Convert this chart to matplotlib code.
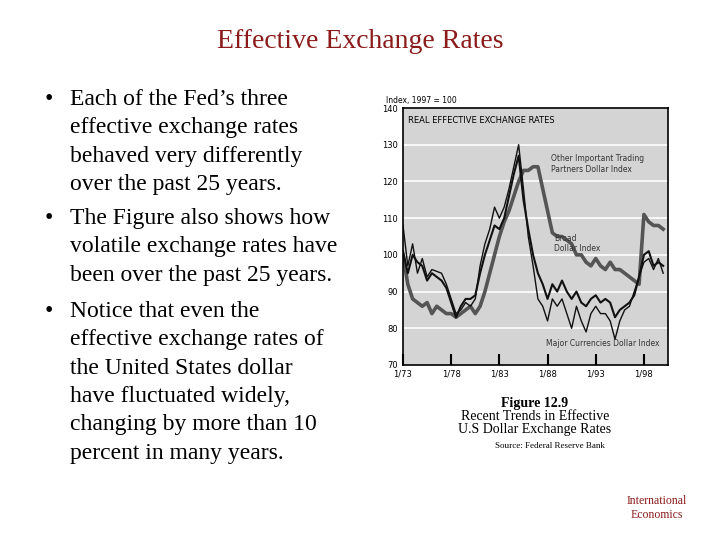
import matplotlib
matplotlib.use("Agg")
import matplotlib.pyplot as plt
import numpy as np

years = [1973+0.5*i for i in range(55)]
major = [108,97,103,95,99,94,96,95.5,95,92,88,84,85,87,86,88,97,103,107,113,110,113,118,124,130,118,105,97,88,86,82,88,86,88,84,80,86,82,79,84,86,84,84,82,77,82,85,86,90,94,98,99,96,99,95]
broad = [101,95,100,98,97,93,95,94,93,91,87,83,86,88,88,89,95,100,104,108,107,110,116,122,127,115,107,100,95,92,88,92,90,93,90,88,90,87,86,88,89,87,88,87,83,85,86,87,89,94,100,101,97,98,97]
other = [100,92,88,87,86,87,84,86,85,84,84,83,84,85,86,84,86,90,95,100,105,109,112,116,120,123,123,124,124,118,112,106,105,105,104,103,100,100,98,97,99,97,96,98,96,96,95,94,93,92,111,109,108,108,107]
yticks = [70,80,90,100,110,120,130,140]
xticks = [1973,1978,1983,1988,1993,1998]
xlabels = ["1/73","1/78","1/83","1/88","1/93","1/98"]
bullets = ["Each of the Fed\u2019s three\neffective exchange rates\nbehaved very differently\nover the past 25 years.",
           "The Figure also shows how\nvolatile exchange rates have\nbeen over the past 25 years.",
           "Notice that even the\neffective exchange rates of\nthe United States dollar\nhave fluctuated widely,\nchanging by more than 10\npercent in many years."]

W, H = 720, 540
fig = plt.figure(figsize=(7.2, 5.4), dpi=100)
serif = "Liberation Serif"
maroon = "#8b1a1a"
fig.text(0.5, 1-42/H, "Effective Exchange Rates", ha="center", va="center", fontsize=20, family=serif, color=maroon)
ys = [97, 216, 309]
for y, b in zip(ys, bullets):
    fig.text(45/W, 1-y/H, "\u2022", ha="left", va="center_baseline", fontsize=17, family=serif)
    fig.text(70/W, 1-(y-8)/H, b, ha="left", va="top", fontsize=17, family=serif, linespacing=1.46)

ax = fig.add_axes([403/W, 1-365/H, 265/W, 257/H])
ax.set_facecolor("#d4d4d4")
for t in yticks[1:-1]:
    ax.axhline(t, color="white", lw=1.2, zorder=0)
ax.plot(years, other, color="#555555", lw=2.6)
ax.plot(years, broad, color="#111111", lw=1.5)
ax.plot(years, major, color="#111111", lw=1.0)
ax.set_xlim(1973, 2000.5); ax.set_ylim(70, 140)
ax.set_yticks(yticks); ax.set_xticks(xticks); ax.set_xticklabels(xlabels)
ax.tick_params(labelsize=6, length=0)
ax.tick_params(axis="x", direction="in", length=8, width=1.5)
for s in ax.spines.values(): s.set_linewidth(1.2)
ax.text(0.02, 0.97, "REAL EFFECTIVE EXCHANGE RATES", transform=ax.transAxes, fontsize=6, va="top")
ax.text(0.56, 0.82, "Other Important Trading\nPartners Dollar Index", transform=ax.transAxes, fontsize=5.5, va="top", color="#333333")
ax.text(0.57, 0.51, "Broad\nDollar Index", transform=ax.transAxes, fontsize=5.5, va="top", color="#333333")
ax.text(0.54, 0.10, "Major Currencies Dollar Index", transform=ax.transAxes, fontsize=5.5, va="top", color="#333333")
fig.text(386/W, 1-101/H, "Index, 1997 = 100", fontsize=5.5, va="center")

fig.text(535/W, 1-404/H, "Figure 12.9", ha="center", fontsize=10, weight="bold", family=serif, va="center")
fig.text(535/W, 1-416/H, "Recent Trends in Effective", ha="center", fontsize=10, family=serif, va="center")
fig.text(535/W, 1-430/H, "U.S Dollar Exchange Rates", ha="center", fontsize=10, family=serif, va="center")
fig.text(550/W, 1-446/H, "Source: Federal Reserve Bank", ha="center", fontsize=6.5, family=serif, va="center")
fig.text(657/W, 1-508/H, "International\nEconomics", ha="center", va="center", fontsize=8.5, family=serif, color=maroon)
fig.savefig("out.png", dpi=100)
